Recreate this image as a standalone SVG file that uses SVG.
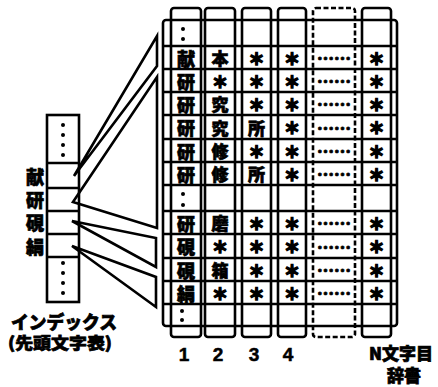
<svg xmlns="http://www.w3.org/2000/svg" width="438" height="387" viewBox="0 0 438 387">
<style>
.ln{stroke:#000;stroke-width:2.6;fill:none}
.thin{stroke:#000;stroke-width:2.3;fill:none}
.dash{stroke-dasharray:5 2.5}
.k{font-family:"Noto Sans CJK JP","Noto Sans",sans-serif;font-weight:900;fill:#000;stroke:#000;stroke-width:0.7;text-anchor:middle;dominant-baseline:central}
.c1{font-size:18px}
.c{font-size:17px}
.ast{font-size:16px;stroke-width:1.6}
.num{font-family:"Liberation Sans",Arial,sans-serif;font-weight:bold;font-size:19px;fill:#000;stroke:#000;stroke-width:0.5;text-anchor:middle}
</style>
<rect width="438" height="387" fill="#fff"/>

<g id="index">
  <rect class="ln" x="47" y="115" width="32" height="187"/>
  <path class="thin" d="M47 163H79M47 188H79M47 211H79M47 234H79M47 257H79"/>
  <g fill="#000">
    <circle cx="63" cy="125" r="2"/><circle cx="63" cy="135" r="2"/><circle cx="63" cy="145" r="2"/><circle cx="63" cy="155" r="2"/>
    <circle cx="63" cy="263" r="2"/><circle cx="63" cy="273" r="2"/><circle cx="63" cy="283" r="2"/><circle cx="63" cy="293" r="2"/>
  </g>
  <text class="k c1" x="35" y="176">献</text>
  <text class="k c1" x="35" y="199">研</text>
  <text class="k c1" x="35" y="222">硯</text>
  <text class="k c1" x="35" y="246">絹</text>
  <text class="k" style="font-size:18px" x="64" y="321" textLength="106" lengthAdjust="spacingAndGlyphs">インデックス</text>
  <text class="k" style="font-size:16px" x="60" y="342" textLength="104" lengthAdjust="spacingAndGlyphs">(先頭文字表)</text>
</g>

<g id="connectors">
  <polygon class="ln" points="74,176 157,36 157,66"/>
  <polygon class="ln" points="73,202 157,77 157,228"/>
  <polygon class="ln" points="72,221 156,238 156,267"/>
  <polygon class="ln" points="72,246 156,277 156,307"/>
</g>

<g id="dictionary">
  <rect class="ln" x="163" y="20" width="234" height="306" rx="3"/>
  <path class="thin" d="M163 46H397M163 69H397M163 92H397M163 115H397M163 139H397M163 162H397M163 185H397M163 211H397M163 234H397M163 258H397M163 281H397M163 304H397"/>
</g>

<g id="col-1">
  <rect class="ln" x="171" y="8" width="30" height="329" rx="3"/>
  <g fill="#000">
    <circle cx="183" cy="29" r="2"/><circle cx="183" cy="39" r="2"/>
    <circle cx="183" cy="194" r="2"/><circle cx="183" cy="205" r="2"/>
    <circle cx="182" cy="311" r="2"/><circle cx="182" cy="320" r="2"/>
  </g>
  <text class="k c1" x="186" y="57.5">献</text>
  <text class="k c1" x="186" y="80.5">研</text>
  <text class="k c1" x="186" y="103.5">研</text>
  <text class="k c1" x="186" y="127">研</text>
  <text class="k c1" x="186" y="150.5">研</text>
  <text class="k c1" x="186" y="173.5">研</text>
  <text class="k c1" x="186" y="222.5">研</text>
  <text class="k c1" x="186" y="246">硯</text>
  <text class="k c1" x="186" y="269.5">硯</text>
  <text class="k c1" x="186" y="292.5">絹</text>
</g>

<g id="col-2">
  <rect class="ln" x="205" y="8" width="30" height="329" rx="3"/>
  <text class="k c" x="220" y="57.5">本</text>
  <text class="k ast" x="220" y="80.5">＊</text>
  <text class="k c" x="220" y="103.5">究</text>
  <text class="k c" x="220" y="127">究</text>
  <text class="k c" x="220" y="150.5">修</text>
  <text class="k c" x="220" y="173.5">修</text>
  <text class="k c" x="220" y="222.5">磨</text>
  <text class="k ast" x="220" y="246">＊</text>
  <text class="k c" x="220" y="269.5">箱</text>
  <text class="k ast" x="220" y="292.5">＊</text>
</g>

<g id="col-3">
  <rect class="ln" x="242" y="8" width="29" height="329" rx="3"/>
  <text class="k ast" x="256.5" y="57.5">＊</text>
  <text class="k ast" x="256.5" y="80.5">＊</text>
  <text class="k ast" x="256.5" y="103.5">＊</text>
  <text class="k c" x="256.5" y="127">所</text>
  <text class="k ast" x="256.5" y="150.5">＊</text>
  <text class="k c" x="256.5" y="173.5">所</text>
  <text class="k ast" x="256.5" y="222.5">＊</text>
  <text class="k ast" x="256.5" y="246">＊</text>
  <text class="k ast" x="256.5" y="269.5">＊</text>
  <text class="k ast" x="256.5" y="292.5">＊</text>
</g>

<g id="col-4">
  <rect class="ln" x="278" y="8" width="28" height="329" rx="3"/>
  <text class="k ast" x="292" y="57.5">＊</text>
  <text class="k ast" x="292" y="80.5">＊</text>
  <text class="k ast" x="292" y="103.5">＊</text>
  <text class="k ast" x="292" y="127">＊</text>
  <text class="k ast" x="292" y="150.5">＊</text>
  <text class="k ast" x="292" y="173.5">＊</text>
  <text class="k ast" x="292" y="222.5">＊</text>
  <text class="k ast" x="292" y="246">＊</text>
  <text class="k ast" x="292" y="269.5">＊</text>
  <text class="k ast" x="292" y="292.5">＊</text>
</g>

<g id="col-dots">
  <rect class="ln dash" x="313" y="8" width="42" height="329" rx="3"/>
  <text class="k c" x="334" y="57.5">……</text>
  <text class="k c" x="334" y="80.5">……</text>
  <text class="k c" x="334" y="103.5">……</text>
  <text class="k c" x="334" y="127">……</text>
  <text class="k c" x="334" y="150.5">……</text>
  <text class="k c" x="334" y="173.5">……</text>
  <text class="k c" x="334" y="222.5">……</text>
  <text class="k c" x="334" y="246">……</text>
  <text class="k c" x="334" y="269.5">……</text>
  <text class="k c" x="334" y="292.5">……</text>
</g>

<g id="col-N">
  <rect class="ln" x="362" y="8" width="29" height="329" rx="3"/>
  <text class="k ast" x="376.5" y="57.5">＊</text>
  <text class="k ast" x="376.5" y="80.5">＊</text>
  <text class="k ast" x="376.5" y="103.5">＊</text>
  <text class="k ast" x="376.5" y="127">＊</text>
  <text class="k ast" x="376.5" y="150.5">＊</text>
  <text class="k ast" x="376.5" y="173.5">＊</text>
  <text class="k ast" x="376.5" y="222.5">＊</text>
  <text class="k ast" x="376.5" y="246">＊</text>
  <text class="k ast" x="376.5" y="269.5">＊</text>
  <text class="k ast" x="376.5" y="292.5">＊</text>
</g>

<g id="labels">
  <text class="num" x="184" y="361">1</text>
  <text class="num" x="218" y="361">2</text>
  <text class="num" x="254" y="361">3</text>
  <text class="num" x="288" y="361">4</text>
  <text class="k" style="font-size:17px" x="401" y="352">N文字目</text>
  <text class="k" style="font-size:17px" x="404" y="374">辞書</text>
</g>
</svg>
